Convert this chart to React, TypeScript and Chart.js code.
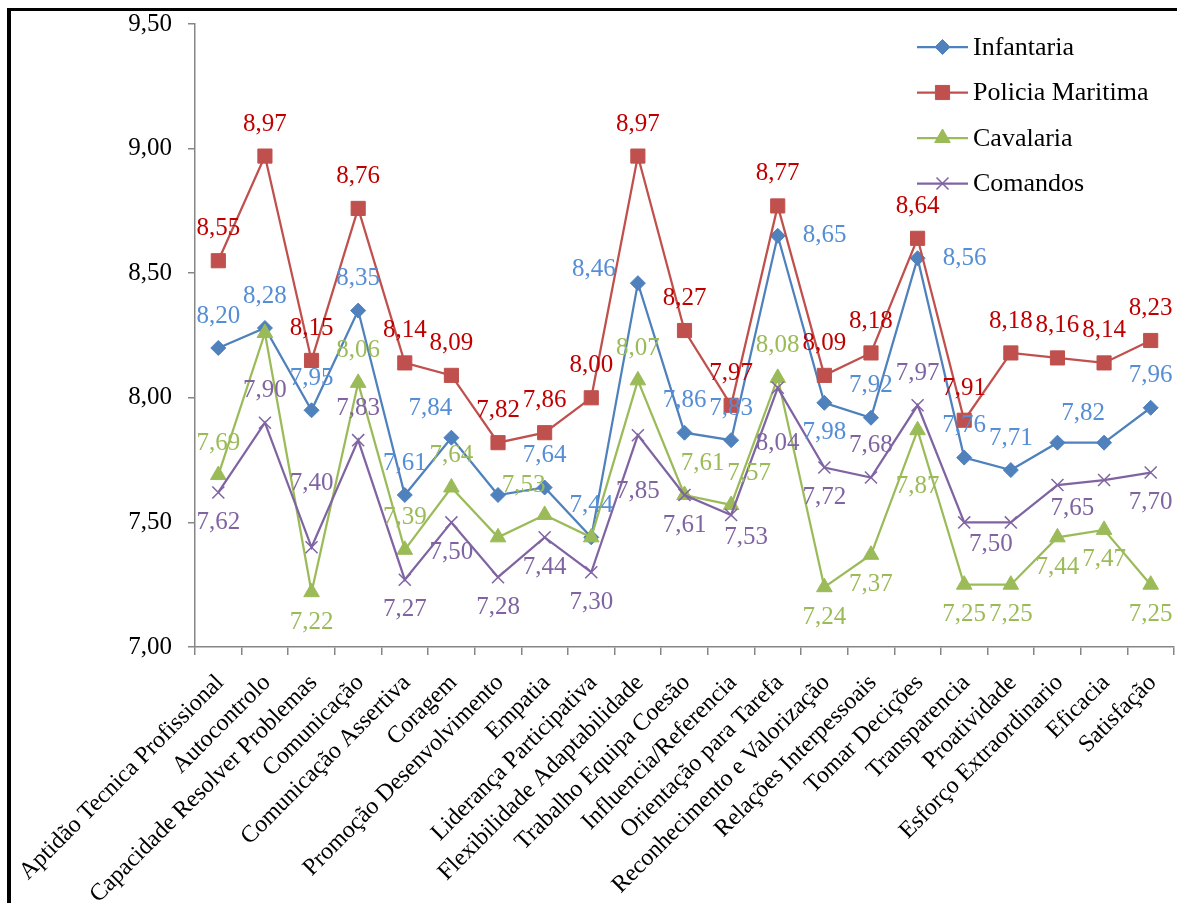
import React, { useEffect, useRef } from 'react';
import { Chart, registerables } from 'chart.js';

Chart.register(...registerables);

const categories = [
  'Aptidão Tecnica Profissional',
  'Autocontrolo',
  'Capacidade Resolver Problemas',
  'Comunicação',
  'Comunicação Assertiva',
  'Coragem',
  'Promoção Desenvolvimento',
  'Empatia',
  'Liderança Participativa',
  'Flexibilidade Adaptabilidade',
  'Trabalho Equipa Coesão',
  'Influencia/Referencia',
  'Orientação para Tarefa',
  'Reconhecimento e Valorização',
  'Relações Interpessoais',
  'Tomar Decições',
  'Transparencia',
  'Proatividade',
  'Esforço Extraordinario',
  'Eficacia',
  'Satisfação',
];

const infantaria = [8.20, 8.28, 7.95, 8.35, 7.61, 7.84, 7.61, 7.64, 7.44, 8.46, 7.86, 7.83, 8.65, 7.98, 7.92, 8.56, 7.76, 7.71, 7.82, 7.82, 7.96];
const policiaMaritima = [8.55, 8.97, 8.15, 8.76, 8.14, 8.09, 7.82, 7.86, 8.00, 8.97, 8.27, 7.97, 8.77, 8.09, 8.18, 8.64, 7.91, 8.18, 8.16, 8.14, 8.23];
const cavalaria = [7.69, 8.26, 7.22, 8.06, 7.39, 7.64, 7.44, 7.53, 7.44, 8.07, 7.61, 7.57, 8.08, 7.24, 7.37, 7.87, 7.25, 7.25, 7.44, 7.47, 7.25];
const comandos = [7.62, 7.90, 7.40, 7.83, 7.27, 7.50, 7.28, 7.44, 7.30, 7.85, 7.61, 7.53, 8.04, 7.72, 7.68, 7.97, 7.50, 7.50, 7.65, 7.67, 7.70];

const seriesNames = ['Infantaria', 'Policia Maritima', 'Cavalaria', 'Comandos'];
const yTicks = [7.0, 7.5, 8.0, 8.5, 9.0, 9.5];

// data-label placement keywords ('' = label not shown)
const infLabelPos = ['t', 't', 't', 't', 't', 'tl', '', 't', 't', 'l', 't', 't', 'r', 'b', 't', 'r', 't', 't', '', 'tl', 't'];
const polLabelPos = ['t', 't', 't', 't', 't', 't', 't', 't', 't', 't', 't', 't', 't', 't', 't', 't', 't', 't', 't', 't', 't'];
const cavLabelPos = ['t', '', 'b', 't', 't', 't', '', 'tl', '', 't', 'tr', 'tr', 't', 'b', 'b', 'bb', 'b', 'b', 'b', 'b', 'b'];
const comLabelPos = ['b', 't', 'tt', 't', 'b', 'b', 'b', 'b', 'b', 'bb', 'b', 'br', 'bb', 'b', 't', 't', '', 'bl', 'br', '', 'b'];

const FONT = "'Liberation Serif', 'Times New Roman', serif";

const lineColors = ['#4F81BD', '#C0504D', '#9BBB59', '#8064A2'];
const labelColors = ['#558ED5', '#C00000', '#9BBB59', '#8064A2'];
const pointStyles = ['rectRot', 'rect', 'triangle', 'crossRot'];
const pointRadii = [7.5, 10, 9, 8.5];

const OFFSETS: Record<string, [number, number]> = {
  t: [0, -32],
  b: [0, 30],
  l: [-44, -14],
  r: [47, 0],
  tl: [-21, -29],
  tr: [18, -32],
  bl: [-20, 22],
  br: [15, 23],
  tt: [0, -64],
  bb: [0, 56],
};

const fmt = (v: number) => v.toFixed(2).replace('.', ',');

function drawMarker(ctx: CanvasRenderingContext2D, style: string, r: number, x: number, y: number, color: string) {
  ctx.save();
  ctx.fillStyle = color;
  ctx.strokeStyle = color;
  ctx.beginPath();
  if (style === 'rectRot') {
    ctx.lineWidth = 1;
    ctx.moveTo(x, y - r);
    ctx.lineTo(x + r, y);
    ctx.lineTo(x, y + r);
    ctx.lineTo(x - r, y);
    ctx.closePath();
    ctx.fill();
    ctx.stroke();
  } else if (style === 'rect') {
    ctx.lineWidth = 1;
    const s = Math.SQRT1_2 * r;
    ctx.rect(x - s, y - s, 2 * s, 2 * s);
    ctx.fill();
    ctx.stroke();
  } else if (style === 'triangle') {
    ctx.lineWidth = 1;
    const a = (2 * Math.PI) / 3;
    ctx.moveTo(x, y - r);
    ctx.lineTo(x + Math.sin(a) * r, y - Math.cos(a) * r);
    ctx.lineTo(x + Math.sin(2 * a) * r, y - Math.cos(2 * a) * r);
    ctx.closePath();
    ctx.fill();
    ctx.stroke();
  } else {
    ctx.lineWidth = 1.5;
    const s = Math.SQRT1_2 * r;
    ctx.moveTo(x - s, y - s);
    ctx.lineTo(x + s, y + s);
    ctx.moveTo(x + s, y - s);
    ctx.lineTo(x - s, y + s);
    ctx.stroke();
  }
  ctx.restore();
}

const frameAndLabels = {
  id: 'frameAndLabels',
  beforeDraw(chart: any) {
    const ctx = chart.ctx;
    ctx.save();
    ctx.fillStyle = '#ffffff';
    ctx.fillRect(0, 0, chart.width, chart.height);
    ctx.fillStyle = '#000000';
    ctx.fillRect(7, 8, chart.width, 3);
    ctx.fillRect(7, 8, 4, chart.height);
    ctx.restore();
  },
  afterDatasetsDraw(chart: any) {
    const ctx = chart.ctx;
    const posArrays = [infLabelPos, polLabelPos, cavLabelPos, comLabelPos];
    ctx.save();
    ctx.font = `25px ${FONT}`;
    ctx.textAlign = 'center';
    ctx.textBaseline = 'middle';
    chart.data.datasets.forEach((ds: any, di: number) => {
      const meta = chart.getDatasetMeta(di);
      ctx.fillStyle = labelColors[di];
      meta.data.forEach((pt: any, i: number) => {
        const key = posArrays[di][i];
        if (!key) return;
        const off = OFFSETS[key];
        ctx.fillText(fmt(ds.data[i]), pt.x + off[0], pt.y + off[1]);
      });
    });
    ctx.restore();
  },
  afterDraw(chart: any) {
    const ctx = chart.ctx;
    const area = chart.chartArea;
    const x0 = area.right - 257;
    const lineLen = 51;
    const rowH = 45.5;
    const y0 = area.top + 23;
    ctx.save();
    seriesNames.forEach((name, i) => {
      const y = y0 + i * rowH;
      ctx.strokeStyle = lineColors[i];
      ctx.lineWidth = 2.25;
      ctx.beginPath();
      ctx.moveTo(x0, y);
      ctx.lineTo(x0 + lineLen, y);
      ctx.stroke();
      drawMarker(ctx, pointStyles[i], pointRadii[i], x0 + lineLen / 2, y, lineColors[i]);
      ctx.fillStyle = '#000000';
      ctx.font = `26px ${FONT}`;
      ctx.textAlign = 'left';
      ctx.textBaseline = 'middle';
      ctx.fillText(name, x0 + lineLen + 5, y + 1);
    });
    ctx.restore();
  },
};

export default function App() {
  const canvasRef = useRef<HTMLCanvasElement | null>(null);

  useEffect(() => {
    document.body.style.margin = '0';
    const canvas = canvasRef.current;
    if (!canvas) return;
    const seriesData = [infantaria, policiaMaritima, cavalaria, comandos];
    const chart = new Chart(canvas, {
      type: 'line',
      data: {
        labels: categories,
        datasets: seriesData.map((d, i) => ({
          label: seriesNames[i],
          data: d,
          borderColor: lineColors[i],
          backgroundColor: lineColors[i],
          borderWidth: 2.25,
          pointStyle: pointStyles[i] as any,
          pointRadius: pointRadii[i],
          pointHoverRadius: pointRadii[i],
          pointBackgroundColor: lineColors[i],
          pointBorderColor: lineColors[i],
          pointBorderWidth: i === 3 ? 1.5 : 1,
          tension: 0,
          fill: false,
          order: 3 - i,
        })),
      },
      options: {
        animation: false,
        responsive: false,
        devicePixelRatio: 1,
        layout: { autoPadding: false, padding: { top: 24, right: 3, left: 0, bottom: 0 } },
        plugins: {
          legend: { display: false },
          tooltip: { enabled: false },
          title: { display: false },
        },
        scales: {
          x: {
            type: 'category',
            offset: true,
            grid: {
              offset: true,
              drawOnChartArea: false,
              drawTicks: true,
              tickLength: 8,
              color: '#868686',
              lineWidth: 1.5,
            },
            border: { color: '#868686', width: 1.5 },
            ticks: {
              autoSkip: false,
              maxRotation: 45,
              minRotation: 45,
              padding: 14,
              labelOffset: 2,
              color: '#000000',
              font: { family: FONT, size: 24 },
            },
            afterFit: (s: any) => {
              s.height = 256;
              s.paddingLeft = 0;
              s.paddingRight = 0;
              s.paddingTop = 0;
              s.paddingBottom = 0;
            },
          },
          y: {
            min: 7,
            max: 9.5,
            grid: {
              drawOnChartArea: false,
              drawTicks: true,
              tickLength: 7,
              color: '#868686',
              lineWidth: 1.5,
            },
            border: { color: '#868686', width: 1.5 },
            ticks: {
              padding: 16,
              color: '#000000',
              font: { family: FONT, size: 25 },
              callback: (v: any) => fmt(Number(v)),
            },
            afterBuildTicks: (s: any) => {
              s.ticks = yTicks.map((v) => ({ value: v }));
            },
            afterFit: (s: any) => {
              s.width = 195;
              s.paddingTop = 0;
              s.paddingBottom = 0;
              s.paddingLeft = 0;
              s.paddingRight = 0;
            },
          },
        },
      },
      plugins: [frameAndLabels],
    });
    return () => chart.destroy();
  }, []);

  return (
    <div style={{ position: 'fixed', left: 0, top: 0, width: 1177, height: 903, background: '#fff' }}>
      <canvas ref={canvasRef} width={1177} height={903} style={{ width: 1177, height: 903, display: 'block' }} />
    </div>
  );
}
